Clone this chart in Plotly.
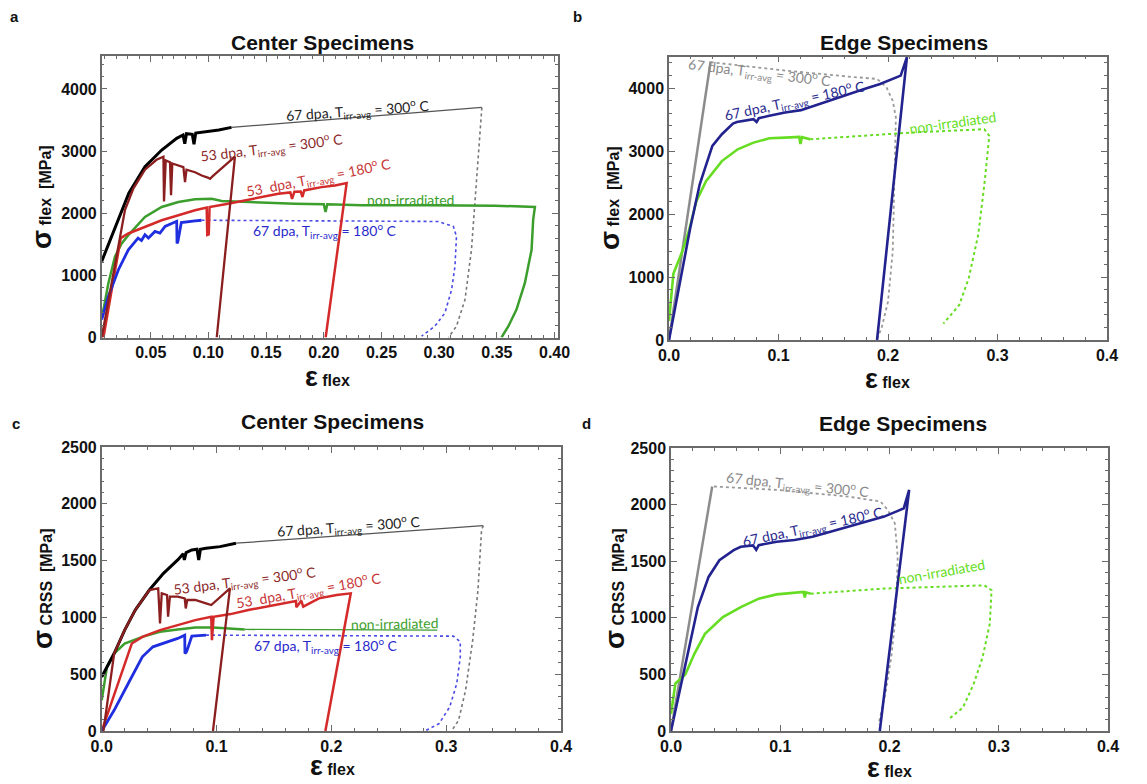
import plotly.graph_objects as go

# ---------------- DATA ----------------
# Panel a : Center specimens, sigma_flex
A_67_300_X = [0.0075, 0.016, 0.031, 0.045, 0.0595, 0.0725, 0.078, 0.0795, 0.081, 0.086, 0.0875, 0.089, 0.097, 0.109, 0.120]
A_67_300_Y = [1225, 1626, 2322, 2750, 3017, 3205, 3260, 3120, 3280, 3270, 3110, 3290, 3312, 3338, 3381]
A_67_300_EXT_X = [0.120, 0.337]
A_67_300_EXT_Y = [3381, 3702]
A_67_300_UNL_X = [0.337, 0.3325, 0.328, 0.3224, 0.315, 0.308]
A_67_300_UNL_Y = [3702, 2482, 1412, 610, 182, 0]
A_53_300_X = [0.0075, 0.0277, 0.035, 0.045, 0.055, 0.061, 0.0615, 0.063, 0.0667, 0.0676, 0.0687, 0.074, 0.0783, 0.0797, 0.081,
              0.0884, 0.0942, 0.1000, 0.1014, 0.104, 0.123, 0.1072]
A_53_300_Y = [0, 2054, 2400, 2700, 2860, 2910, 2188, 2850, 2820, 2290, 2800, 2766, 2740, 2500, 2700,
              2660, 2606, 2570, 2553, 2600, 2910, 0]
A_53_180_X = [0.009, 0.024, 0.0306, 0.045, 0.0595, 0.074, 0.0884, 0.0985, 0.0990, 0.1003, 0.1010, 0.117, 0.1317, 0.146, 0.1606,
              0.171, 0.1725, 0.1745, 0.180, 0.1815, 0.183, 0.198, 0.2097, 0.2198, 0.2016]
A_53_180_Y = [0, 1600, 1674, 1780, 1887, 1967, 2047, 2090, 1650, 1660, 2100, 2153, 2207, 2260, 2313,
              2335, 2230, 2345, 2350, 2260, 2367, 2420, 2446, 2484, 0]
A_NON_X = [0.0075, 0.0133, 0.019, 0.0248, 0.0306, 0.045, 0.0595, 0.0739, 0.0884, 0.1028, 0.1115, 0.1317, 0.175, 0.200, 0.2015,
           0.203, 0.2328, 0.29, 0.3484, 0.383, 0.3815, 0.3801, 0.3743, 0.367, 0.36, 0.354]
A_NON_Y = [300, 874, 1300, 1514, 1647, 1940, 2100, 2180, 2223, 2233, 2196, 2180, 2153, 2143, 2020,
           2143, 2127, 2127, 2121, 2100, 1900, 1412, 877, 449, 182, 0]
A_67_180_X = [0.0075, 0.0133, 0.022, 0.0306, 0.039, 0.042, 0.045, 0.048, 0.0537, 0.058, 0.0624, 0.071, 0.0725, 0.0728, 0.0735,
              0.0765, 0.080, 0.0884, 0.094]
A_67_180_Y = [289, 663, 1091, 1412, 1600, 1560, 1653, 1600, 1707, 1680, 1787, 1867, 1870, 1514, 1540,
              1850, 1860, 1876, 1887]
A_67_180_EXT_X = [0.094, 0.299, 0.3123, 0.315, 0.3137, 0.3108, 0.305, 0.2963, 0.2848]
A_67_180_EXT_Y = [1887, 1867, 1787, 1626, 1145, 770, 396, 182, 21]

# Panel b : Edge specimens, sigma_flex
B_67_300_X = [0.0, 0.038]
B_67_300_Y = [0, 4420]
B_67_300_EXT_X = [0.038, 0.106, 0.164, 0.19, 0.1986, 0.2043, 0.2072, 0.2058, 0.2043, 0.200, 0.194, 0.19]
B_67_300_EXT_Y = [4410, 4277, 4181, 4144, 4011, 3798, 3532, 2468, 1404, 606, 181, 21]
B_67_180_X = [0.0, 0.0194, 0.028, 0.0396, 0.0483, 0.0584, 0.062, 0.0772, 0.080, 0.082, 0.0916, 0.106, 0.1205, 0.135, 0.1494,
              0.1639, 0.1783, 0.1928, 0.2072, 0.2116, 0.2173, 0.19]
B_67_180_Y = [0, 1777, 2468, 3080, 3266, 3436, 3460, 3505, 3460, 3520, 3559, 3612, 3649, 3734, 3824,
              3904, 3984, 4064, 4160, 4197, 4489, 0]
B_NON_X = [0.0, 0.004, 0.012, 0.018, 0.025, 0.0338, 0.0483, 0.0627, 0.0772, 0.0916, 0.106, 0.119, 0.120, 0.1215, 0.129]
B_NON_Y = [300, 1050, 1400, 1723, 2202, 2521, 2840, 3027, 3133, 3202, 3213, 3223, 3110, 3220, 3186]
B_NON_EXT_X = [0.129, 0.2217, 0.288, 0.2925, 0.288, 0.2824, 0.2737, 0.265, 0.2506]
B_NON_EXT_Y = [3186, 3293, 3346, 3239, 2468, 1670, 979, 553, 261]

# Panel c : Center specimens, sigma_CRSS
C_67_300_X = [0.0, 0.0108, 0.02, 0.0292, 0.0415, 0.0538, 0.0662, 0.071, 0.072, 0.0735, 0.0785, 0.083, 0.0845, 0.086, 0.0908,
              0.1031, 0.1169]
C_67_300_Y = [476, 682, 888, 1065, 1241, 1388, 1506, 1560, 1505, 1570, 1594, 1600, 1505, 1600, 1609,
              1623, 1653]
C_67_300_EXT_X = [0.1169, 0.3323]
C_67_300_EXT_Y = [1653, 1808]
C_67_300_UNL_X = [0.3323, 0.3308, 0.3277, 0.3231, 0.3169, 0.3108, 0.3046]
C_67_300_UNL_Y = [1808, 1770, 1241, 800, 359, 94, 0]
C_53_300_X = [0.0015, 0.0108, 0.02, 0.0292, 0.0415, 0.0492, 0.0508, 0.0523, 0.0569, 0.0578, 0.0594, 0.0662, 0.0723, 0.0732,
              0.0745, 0.0815, 0.0908, 0.0954, 0.1117, 0.0969]
C_53_300_Y = [0, 680, 888, 1065, 1241, 1256, 947, 1212, 1197, 1006, 1182, 1182, 1168, 1079,
              1153, 1153, 1123, 1109, 1256, 0]
C_53_180_X = [0.0, 0.0262, 0.0354, 0.0508, 0.0662, 0.0815, 0.0954, 0.096, 0.0975, 0.1123, 0.1277, 0.1431, 0.1585, 0.1692,
              0.1695, 0.1738, 0.1755, 0.1892, 0.2046, 0.2169, 0.1948]
C_53_180_Y = [0, 770, 829, 888, 932, 976, 1006, 800, 1006, 1029, 1065, 1094, 1123, 1144,
              1090, 1147, 1095, 1168, 1197, 1212, 0]
C_NON_X = [0.0, 0.0015, 0.0046, 0.0108, 0.02, 0.0354, 0.0508, 0.0662, 0.0815, 0.0969, 0.1123, 0.1246]
C_NON_Y = [270, 359, 565, 682, 770, 829, 873, 894, 912, 912, 903, 894]
C_NON_EXT_X = [0.1246, 0.2923]
C_NON_EXT_Y = [894, 888]
C_67_180_X = [0.0, 0.0108, 0.0231, 0.0354, 0.0446, 0.0538, 0.0662, 0.0723, 0.0725, 0.074, 0.0785, 0.0908]
C_67_180_Y = [0, 182, 418, 653, 741, 770, 815, 844, 682, 700, 835, 844]
C_67_180_EXT_X = [0.0908, 0.3062, 0.3123, 0.3123, 0.3092, 0.3031, 0.2938, 0.2815]
C_67_180_EXT_Y = [844, 835, 785, 653, 418, 212, 65, 0]

# Panel d : Edge specimens, sigma_CRSS
D_67_300_X = [0.0, 0.0377]
D_67_300_Y = [0, 2160]
D_67_300_EXT_X = [0.0393, 0.0967, 0.1623, 0.1918, 0.1984, 0.2049, 0.2075, 0.2066, 0.2049, 0.2016, 0.1967, 0.19]
D_67_300_EXT_Y = [2160, 2130, 2071, 2027, 1953, 1834, 1539, 1243, 947, 651, 355, 59]
D_67_180_X = [0.0, 0.0082, 0.0164, 0.0246, 0.0344, 0.0443, 0.0574, 0.0639, 0.075, 0.078, 0.0803, 0.0967, 0.1131, 0.1295,
              0.1459, 0.1623, 0.1787, 0.1951, 0.2082, 0.2131, 0.218, 0.1911]
D_67_180_Y = [0, 355, 710, 1095, 1361, 1509, 1598, 1627, 1640, 1600, 1642, 1672, 1687, 1716,
              1761, 1805, 1849, 1894, 1947, 1968, 2130, 0]
D_NON_X = [0.0, 0.004, 0.0131, 0.0213, 0.0311, 0.0475, 0.0639, 0.0803, 0.0967, 0.1131, 0.1213, 0.1225, 0.1235, 0.1279]
D_NON_Y = [150, 420, 500, 680, 858, 1006, 1095, 1169, 1207, 1219, 1228, 1180, 1225, 1213]
D_NON_EXT_X = [0.1279, 0.195, 0.2869, 0.2934, 0.2918, 0.2852, 0.277, 0.2672, 0.2541]
D_NON_EXT_Y = [1213, 1258, 1287, 1243, 947, 651, 414, 207, 104]

PANEL_TITLES = ["Center Specimens", "Edge Specimens", "Center Specimens", "Edge Specimens"]
PANEL_LETTERS = ["a", "b", "c", "d"]

# ---------------- STYLE ----------------
BLACK = "#000000"
GREY_EXT = "#555555"
DARKRED = "#8b1f1f"
RED = "#d42a2a"
GREEN = "#3c9e2c"
BLUE = "#1f2fe0"
BLUE_D = "#4a4ae6"
EGREY = "#8c8c8c"
NAVY = "#23238f"
LIME = "#66dd22"

BF = "Liberation Sans, Arial"
TICKFONT = dict(family=BF, size=16, color="#111", weight="bold")
FRAME = "#6a6a6a"

fig = go.Figure()


def line(x, y, color, width, ax, dash="solid"):
    fig.add_trace(go.Scatter(x=x, y=y, mode="lines", xaxis="x" + ax, yaxis="y" + ax,
                             line=dict(color=color, width=width, dash=dash),
                             hoverinfo="skip", showlegend=False))


# panel a (axis "")
line(A_67_300_EXT_X, A_67_300_EXT_Y, GREY_EXT, 1.3, "")
line(A_67_300_UNL_X, A_67_300_UNL_Y, "#777777", 1.6, "", "dot")
line(A_67_180_EXT_X, A_67_180_EXT_Y, BLUE_D, 1.6, "", "3px,3px")
line(A_NON_X, A_NON_Y, GREEN, 2.5, "")
line(A_53_180_X, A_53_180_Y, RED, 2.5, "")
line(A_67_180_X, A_67_180_Y, BLUE, 2.8, "")
line(A_67_300_X, A_67_300_Y, BLACK, 3, "")
line(A_53_300_X, A_53_300_Y, DARKRED, 2.3, "")

# panel b
line(B_67_300_EXT_X, B_67_300_EXT_Y, "#9a9a9a", 1.8, "2", "dot")
line(B_NON_EXT_X, B_NON_EXT_Y, LIME, 2, "2", "dot")
line(B_67_300_X, B_67_300_Y, EGREY, 2.5, "2")
line(B_NON_X, B_NON_Y, LIME, 2.6, "2")
line(B_67_180_X, B_67_180_Y, NAVY, 2.6, "2")

# panel c
line(C_67_300_EXT_X, C_67_300_EXT_Y, GREY_EXT, 1.3, "3")
line(C_67_300_UNL_X, C_67_300_UNL_Y, "#777777", 1.6, "3", "dot")
line(C_67_180_EXT_X, C_67_180_EXT_Y, BLUE_D, 1.6, "3", "3px,3px")
line(C_NON_EXT_X, C_NON_EXT_Y, GREEN, 1.3, "3")
line(C_NON_X, C_NON_Y, GREEN, 2.5, "3")
line(C_53_180_X, C_53_180_Y, RED, 2.5, "3")
line(C_67_180_X, C_67_180_Y, BLUE, 2.8, "3")
line(C_67_300_X, C_67_300_Y, BLACK, 3, "3")
line(C_53_300_X, C_53_300_Y, DARKRED, 2.3, "3")

# panel d
line(D_67_300_EXT_X, D_67_300_EXT_Y, "#9a9a9a", 1.8, "4", "dot")
line(D_NON_EXT_X, D_NON_EXT_Y, LIME, 2, "4", "dot")
line(D_67_300_X, D_67_300_Y, EGREY, 2.5, "4")
line(D_NON_X, D_NON_Y, LIME, 2.6, "4")
line(D_67_180_X, D_67_180_Y, NAVY, 2.6, "4")


def xax(domain, rng, dtick, minor, fmt, anchor):
    return dict(domain=domain, range=rng, anchor=anchor, dtick=dtick, tick0=0, tickformat=fmt,
                showgrid=False, zeroline=False, showline=True, linecolor=FRAME, linewidth=1.5,
                mirror="ticks", ticks="inside", ticklen=6, tickcolor=FRAME, tickwidth=1.2,
                minor=dict(dtick=minor, ticks="inside", ticklen=3, tickcolor=FRAME, tickwidth=1),
                tickfont=TICKFONT, ticklabelstandoff=0, automargin=False)


def yax(domain, rng, dtick, minor, anchor):
    return dict(domain=domain, range=rng, anchor=anchor, dtick=dtick, tick0=0,
                showgrid=False, zeroline=False, showline=True, linecolor=FRAME, linewidth=1.5,
                mirror="ticks", ticks="inside", ticklen=6, tickcolor=FRAME, tickwidth=1.2,
                minor=dict(dtick=minor, ticks="inside", ticklen=3, tickcolor=FRAME, tickwidth=1),
                tickfont=TICKFONT, ticklabelstandoff=0, automargin=False)


W, H = 1147, 784
px = lambda v: v / W
py = lambda v: 1 - v / H

fig.update_layout(
    width=W, height=H, margin=dict(l=0, r=0, t=0, b=0, autoexpand=False),
    paper_bgcolor="white", plot_bgcolor="white", showlegend=False,
    xaxis=xax([px(101.7), px(558)], [0.0075, 0.403], 0.05, 0.01, ".2f", "y"),
    yaxis=yax([py(337.5), py(56)], [0, 4530], 1000, 200, "x"),
    xaxis2=xax([px(669), px(1107)], [0, 0.4], 0.1, 0.02, ".1f", "y2"),
    yaxis2=yax([py(340), py(56.5)], [0, 4500], 1000, 200, "x2"),
    xaxis3=xax([px(101.7), px(561)], [0, 0.4], 0.1, 0.02, ".1f", "y3"),
    yaxis3=yax([py(731), py(447)], [0, 2500], 500, 100, "x3"),
    xaxis4=xax([px(671), px(1108)], [0, 0.4], 0.1, 0.02, ".1f", "y4"),
    yaxis4=yax([py(731), py(448)], [0, 2500], 500, 100, "x4"),
)

ann = []


def pann(tx, ty, text, size, angle=0):
    ann.append(dict(x=px(tx), y=py(ty), xref="paper", yref="paper", text=text, showarrow=False,
                    xanchor="center", yanchor="middle", textangle=angle,
                    font=dict(family=BF, size=size, color="#111")))


# panel titles and letters
for (tx, ty), t in zip([(322, 43), (904, 43), (332, 422), (903, 423)], PANEL_TITLES):
    pann(tx, ty, "<b>%s</b>" % t, 21)
for (tx, ty), t in zip([(14, 17), (577, 16), (16, 423), (586, 423)], PANEL_LETTERS):
    pann(tx, ty, "<b>%s</b>" % t, 15)

# axis titles
for tx, ty, sub in [(42, 197, "flex"), (610, 198, "flex"), (42, 589, "CRSS"), (614, 589, "CRSS")]:
    pann(tx, ty, "<b><span style='font-size:28px'>σ</span> %s  [MPa]</b>" % sub, 16, -90)
for tx, ty in [(327, 377), (887, 379), (332, 766), (890, 768)]:
    pann(tx, ty, "<b><span style='font-size:27px'>ε</span> flex</b>", 16)

LF = "Lato, Open Sans, sans-serif"


def lab(ax, x, y, text, color, angle):
    ann.append(dict(x=x, y=y, xref="x" + ax, yref="y" + ax, text=text, showarrow=False,
                    xanchor="center", yanchor="middle",
                    textangle=angle, font=dict(family=LF, size=14, color=color)))


T300 = "67 dpa, T<sub>irr-avg</sub> = 300<sup>o</sup> C"
T180 = "67 dpa, T<sub>irr-avg</sub> = 180<sup>o</sup> C"
T53_300 = "53 dpa, T<sub>irr-avg</sub> = 300<sup>o</sup> C"
T53_180 = "53  dpa, T<sub>irr-avg</sub> = 180<sup>o</sup> C"
TNON = "non-irradiated"

lab("", 0.23, 3646, T300, "#222222", -4)
lab("", 0.155, 3060, T53_300, "#8b2a2a", -7)
lab("", 0.195, 2580, T53_180, "#c83737", -11)
lab("", 0.275, 2217, TNON, GREEN, 0)
lab("", 0.201, 1727, T180, "#2a2acc", 0)

lab("2", 0.083, 4250, T300, "#8a8a8a", 7)
lab("2", 0.115, 3800, T180, "#2b2b8f", -12)
lab("2", 0.259, 3453, TNON, LIME, -8)

lab("3", 0.215, 1800, T300, "#222222", -4)
lab("3", 0.125, 1329, T53_300, "#8b2a2a", -7)
lab("3", 0.18, 1241, T53_180, "#c83737", -10)
lab("3", 0.255, 947, TNON, GREEN, -1)
lab("3", 0.195, 756, T180, "#2a2acc", 0)

lab("4", 0.116, 2175, T300, "#8a8a8a", 6)
lab("4", 0.13, 1805, T180, "#2b2b8f", -12)
lab("4", 0.2475, 1405, TNON, LIME, -10)

fig.update_layout(annotations=ann)
fig.write_html("out.html")
